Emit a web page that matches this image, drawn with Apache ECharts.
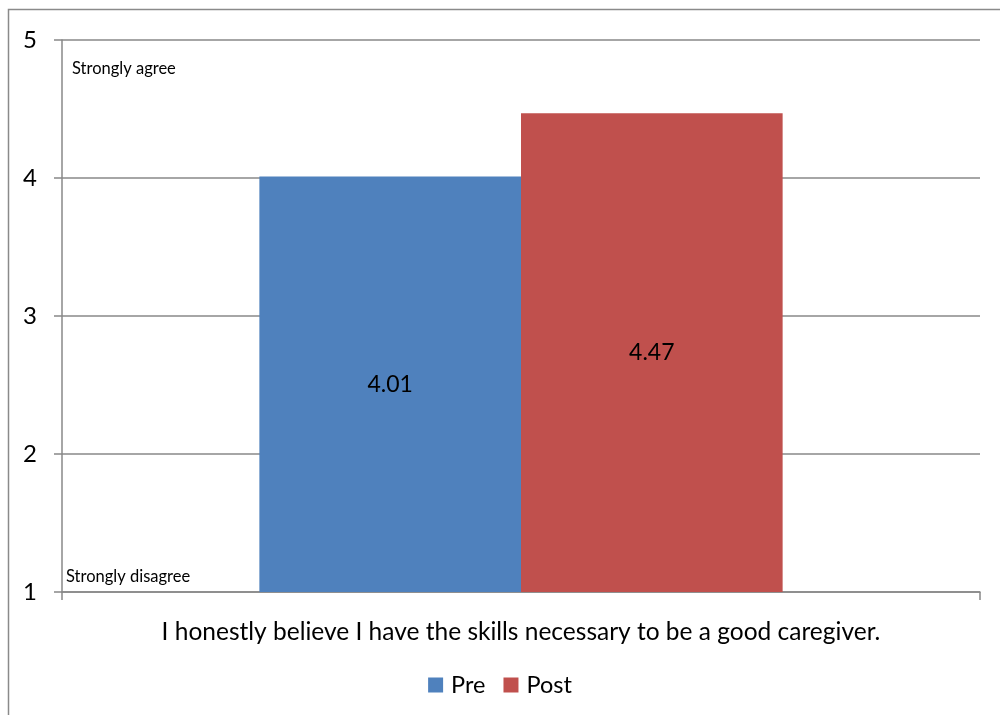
<!DOCTYPE html>
<html><head><meta charset="utf-8">
<script src="https://cdn.jsdelivr.net/npm/echarts@6/dist/echarts.min.js"></script>
<style>html,body{margin:0;padding:0;background:#fff}#c{width:1000px;height:715px}</style>
</head><body><div id="c"></div>
<script>
const categories = ["I honestly believe I have the skills necessary to be a good caregiver."];
const seriesNames = ["Pre", "Post"];
const preValues = [4.01];
const postValues = [4.47];
const yTicks = [1, 2, 3, 4, 5];
const scaleNotes = ["Strongly agree", "Strongly disagree"];

const FONT = "Lato";
const chart = echarts.init(document.getElementById('c'), null, {renderer: 'canvas'});
const colors = ['#4F81BD', '#C0504D'];
chart.setOption({
  animation: false,
  textStyle: {fontFamily: FONT},
  graphic: [
    {type: 'rect', shape: {x: 8.5, y: 9.5, width: 1000, height: 720}, style: {fill: 'none', stroke: '#8a8a8a', lineWidth: 1.5}, silent: true},
    {type: 'text', left: 72, top: 60, style: {text: scaleNotes[0], font: '16.5px ' + FONT, fill: '#000'}},
    {type: 'text', left: 66, top: 568, style: {text: scaleNotes[1], font: '16.5px ' + FONT, fill: '#000'}}
  ],
  grid: {left: 62, right: 20, top: 40, bottom: 123, containLabel: false},
  legend: {
    data: seriesNames, top: 668, left: 'center', itemWidth: 15, itemHeight: 15, itemGap: 18,
    icon: 'rect', textStyle: {fontSize: 23.5, fontFamily: FONT, color: '#000', padding: [0, 0, 0, 3]}
  },
  xAxis: {
    type: 'category', data: categories,
    axisLine: {lineStyle: {color: '#888', width: 1.5}},
    axisTick: {show: true, length: 8, lineStyle: {color: '#888', width: 1.5}},
    axisLabel: {fontSize: 24.5, color: '#000', margin: 28, fontFamily: FONT}
  },
  yAxis: {
    type: 'value', min: yTicks[0], max: yTicks[yTicks.length - 1], interval: 1,
    axisLine: {show: true, lineStyle: {color: '#888', width: 1.5}},
    axisTick: {show: true, length: 8, lineStyle: {color: '#888', width: 1.5}},
    axisLabel: {fontSize: 24, color: '#000', margin: 25, fontFamily: FONT},
    splitLine: {lineStyle: {color: '#888', width: 1.5}}
  },
  series: [
    {name: seriesNames[0], type: 'bar', data: preValues, barGap: '0%', barCategoryGap: '43%',
     itemStyle: {color: colors[0]},
     label: {show: true, position: 'inside', fontSize: 23, color: '#000', fontFamily: FONT, formatter: p => p.value.toFixed(2)}},
    {name: seriesNames[1], type: 'bar', data: postValues, barGap: '0%', barCategoryGap: '43%',
     itemStyle: {color: colors[1]},
     label: {show: true, position: 'inside', fontSize: 23, color: '#000', fontFamily: FONT, formatter: p => p.value.toFixed(2)}}
  ]
});
</script></body></html>
